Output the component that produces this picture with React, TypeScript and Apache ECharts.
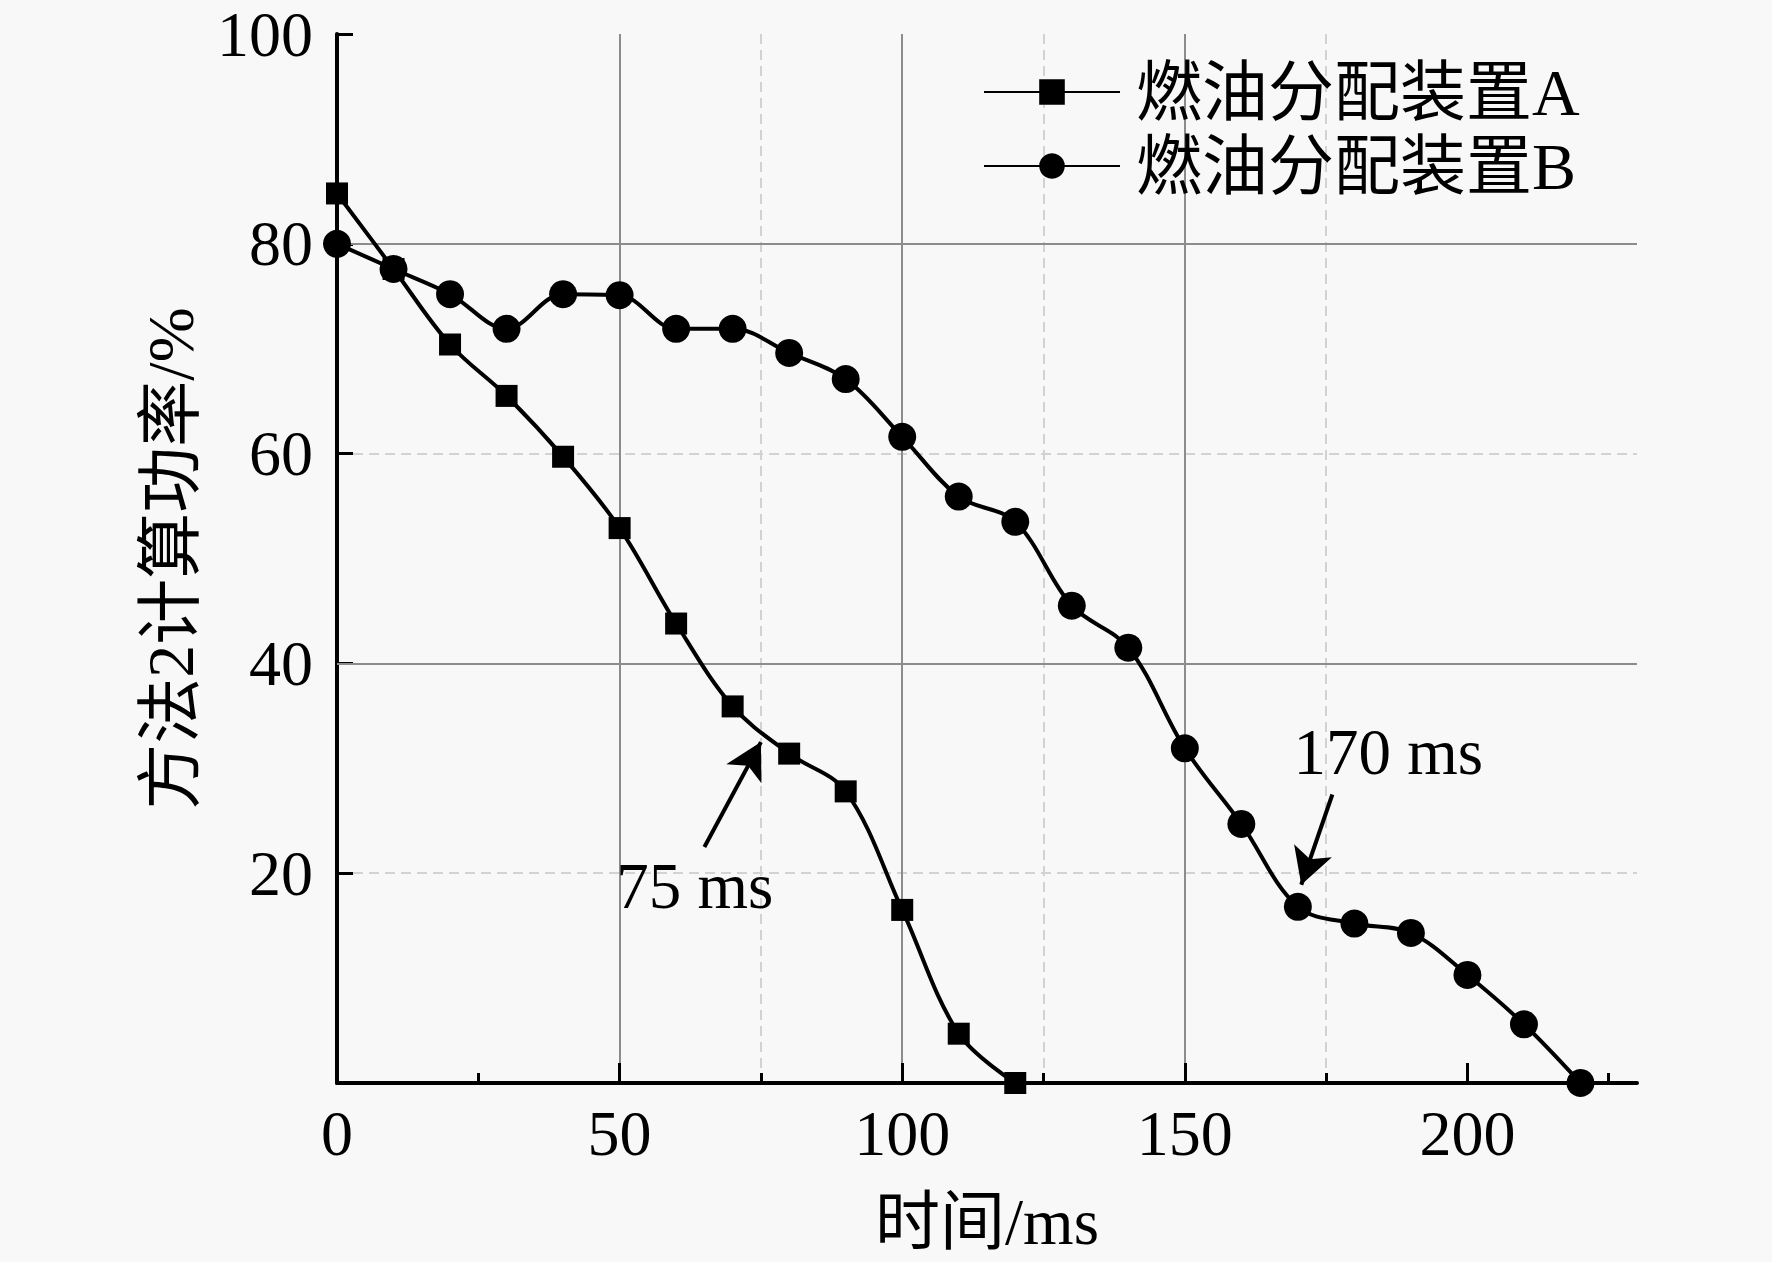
import React, { useEffect, useRef } from 'react';
import * as echarts from 'echarts';

const FONT = "'Liberation Serif', 'Times New Roman', 'Noto Sans CJK SC', serif";

// Series A: 燃油分配装置A
const timeA = [0, 10, 20, 30, 40, 50, 60, 70, 80, 90, 100, 110, 120];
const powerA = [84.8, 77.6, 70.4, 65.5, 59.7, 52.9, 43.8, 35.9, 31.4, 27.8, 16.5, 4.7, 0];

// Series B: 燃油分配装置B
const timeB = [0, 10, 20, 30, 40, 50, 60, 70, 80, 90, 100, 110, 120, 130, 140, 150, 160, 170, 180, 190, 200, 210, 220];
const powerB = [80.0, 77.6, 75.2, 71.9, 75.2, 75.1, 71.9, 71.9, 69.6, 67.1, 61.6, 55.9, 53.5, 45.5, 41.5, 31.9, 24.7, 16.8, 15.2, 14.3, 10.3, 5.6, 0];

const seriesNames = ['燃油分配装置A', '燃油分配装置B'];

// Axis ticks
const xMajorTicks = [0, 50, 100, 150, 200];
const xMinorTicks = [25, 75, 125, 175, 225];

// Annotations (data coordinates)
const arrowA = [[65.0, 22.5], [75.0, 32.5]];
const arrowB = [[176.1, 27.5], [170.6, 18.9]];
const noteTexts = ['75 ms', '170 ms'];
const notePositions = [[63.3, 18.8], [186.0, 31.6]];

export default function App() {
  const ref = useRef<HTMLDivElement>(null);

  useEffect(() => {
    const chart = echarts.init(ref.current!, null, { renderer: 'svg' });
    const textBase = { fontFamily: FONT, color: '#000', fontSize: 64 };
    chart.setOption({
      animation: false,
      backgroundColor: '#f8f8f8',
      grid: { left: 337, right: 135, top: 32, bottom: 179, containLabel: false },
      legend: {
        orient: 'vertical',
        left: 978,
        top: 54,
        itemWidth: 136,
        itemHeight: 32,
        itemGap: 8,
        textStyle: { ...textBase, fontSize: 66, padding: [0, 0, 0, 11] },
        data: seriesNames,
      },
      xAxis: [
        {
          type: 'value',
          min: 0,
          max: 230,
          interval: 50,
          position: 'bottom',
          z: 1,
          name: '时间/ms',
          nameLocation: 'middle',
          nameGap: 106,
          nameTextStyle: { ...textBase, fontSize: 65 },
          axisLine: { show: true, onZero: false, lineStyle: { color: '#000', width: 4 } },
          axisTick: { show: true, inside: true, length: 20, lineStyle: { color: '#000', width: 3 }, customValues: xMajorTicks },
          axisLabel: { show: true, margin: 18, ...textBase, customValues: xMajorTicks },
          splitLine: { show: true, showMinLine: false, showMaxLine: false, lineStyle: { color: '#8c8c8c', width: 2 } },
        },
        {
          type: 'value',
          min: 0,
          max: 230,
          interval: 25,
          position: 'bottom',
          z: 0,
          axisLine: { show: false },
          axisTick: { show: true, inside: true, length: 10, lineStyle: { color: '#000', width: 3 }, customValues: xMinorTicks },
          axisLabel: { show: false },
          splitLine: { show: true, showMinLine: false, showMaxLine: false, lineStyle: { color: '#d2d2d2', width: 2, type: [10, 6] } },
        },
      ],
      yAxis: [
        {
          type: 'value',
          min: 0,
          max: 100,
          interval: 20,
          position: 'left',
          z: 0,
          name: '方法2计算功率/%',
          nameLocation: 'middle',
          nameRotate: 90,
          nameGap: 134,
          nameTextStyle: { ...textBase, fontSize: 66 },
          axisLine: { show: true, onZero: false, lineStyle: { color: '#000', width: 4 } },
          axisTick: { show: true, inside: true, length: 16, lineStyle: { color: '#000', width: 3 } },
          axisLabel: {
            show: true,
            margin: 24,
            ...textBase,
            lineHeight: 60,
            padding: [8, 0, 0, 0],
            formatter: (v: number) => (v === 0 ? '' : String(v)),
          },
          splitLine: { show: true, showMinLine: false, showMaxLine: false, lineStyle: { color: '#d2d2d2', width: 2, type: [10, 6] } },
        },
        {
          type: 'value',
          min: 0,
          max: 100,
          interval: 40,
          position: 'left',
          z: 1,
          axisLine: { show: false },
          axisTick: { show: false },
          axisLabel: { show: false },
          splitLine: { show: true, showMinLine: false, showMaxLine: false, lineStyle: { color: '#8c8c8c', width: 2 } },
        },
      ],
      series: [
        {
          name: seriesNames[0],
          type: 'line',
          xAxisIndex: 0,
          yAxisIndex: 0,
          data: timeA.map((t, i) => [t, powerA[i]]),
          smooth: 0.35,
          symbol: 'rect',
          symbolSize: 22,
          clip: false,
          z: 3,
          lineStyle: { color: '#000', width: 4 },
          itemStyle: { color: '#000' },
          markLine: {
            silent: true,
            symbol: ['none', 'arrow'],
            symbolSize: [30, 36],
            lineStyle: { color: '#000', width: 4, type: 'solid' },
            label: { show: false },
            data: [
              [{ coord: arrowA[0] }, { coord: arrowA[1] }],
              [{ coord: arrowB[0] }, { coord: arrowB[1] }],
            ],
          },
          markPoint: {
            silent: true,
            symbol: 'rect',
            symbolSize: 1,
            itemStyle: { color: 'rgba(0,0,0,0)' },
            label: { show: true, position: 'inside', ...textBase, fontSize: 65 },
            data: notePositions.map((p, i) => ({ coord: p, value: noteTexts[i], label: { formatter: noteTexts[i] } })),
          },
        },
        {
          name: seriesNames[1],
          type: 'line',
          xAxisIndex: 0,
          yAxisIndex: 0,
          data: timeB.map((t, i) => [t, powerB[i]]),
          smooth: 0.35,
          symbol: 'circle',
          symbolSize: 28,
          clip: false,
          z: 3,
          lineStyle: { color: '#000', width: 4 },
          itemStyle: { color: '#000' },
        },
      ],
    });
    return () => chart.dispose();
  }, []);

  return <div ref={ref} style={{ position: 'fixed', left: 0, top: 0, width: 1772, height: 1262 }} />;
}
